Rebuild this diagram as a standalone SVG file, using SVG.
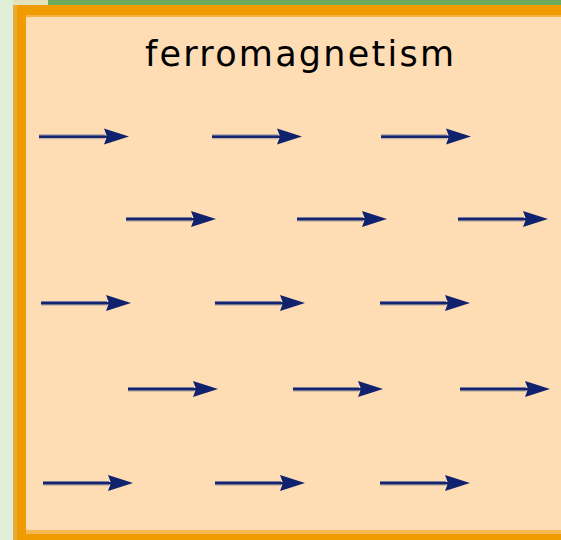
<svg xmlns="http://www.w3.org/2000/svg" width="561" height="540" viewBox="0 0 561 540">
  <style>
    .title { font-family: "DejaVu Sans", "Liberation Sans", sans-serif; font-size: 35px; fill: #000; }
    .shaft { stroke: #14246e; stroke-width: 2.6; }
    .shade { stroke: #c4b4a4; stroke-width: 1.4; }
    .hi { stroke: #7a7ca0; stroke-width: 1.2; }
    .head { fill: #10226e; }
  </style>
  <defs>
    <g id="arrow">
      <line class="shade" x1="0" y1="2" x2="66" y2="2"/>
      <line class="hi" x1="0" y1="-1.3" x2="66" y2="-1.3"/>
      <line class="shaft" x1="0" y1="0.3" x2="68" y2="0.3"/>
      <polygon class="head" points="90,0 65,-8 68,0 65,8"/>
    </g>
  </defs>
  <rect x="0" y="0" width="561" height="540" fill="#e0f0d8"/>
  <rect x="13" y="0" width="35" height="5" fill="#e2e2bc"/>
  <rect x="48" y="0" width="513" height="5" fill="#6aaa5c"/>
  <g id="panel">
    <rect x="13" y="5" width="548" height="535" fill="#f09c00"/>
    <rect x="13" y="5" width="4" height="535" fill="#e8aa38"/>
    <rect x="26" y="15" width="535" height="2" fill="#f8b040"/>
    <rect x="26" y="17" width="535" height="514" fill="#fedcb4"/>
    <rect x="26" y="530" width="535" height="4" fill="#f6b850"/>
  </g>
  <g id="title">
    <text class="title" x="299.5" y="66" text-anchor="middle" textLength="309" lengthAdjust="spacing">ferromagnetism</text>
  </g>
  <g id="spins">
    <use href="#arrow" x="39" y="136.5"/>
    <use href="#arrow" x="212" y="136.5"/>
    <use href="#arrow" x="381" y="136.5"/>
    <use href="#arrow" x="126" y="219"/>
    <use href="#arrow" x="297" y="219"/>
    <use href="#arrow" x="458" y="219"/>
    <use href="#arrow" x="41" y="303"/>
    <use href="#arrow" x="215" y="303"/>
    <use href="#arrow" x="380" y="303"/>
    <use href="#arrow" x="128" y="389"/>
    <use href="#arrow" x="293" y="389"/>
    <use href="#arrow" x="460" y="389"/>
    <use href="#arrow" x="43" y="483"/>
    <use href="#arrow" x="215" y="483"/>
    <use href="#arrow" x="380" y="483"/>
  </g>
</svg>
